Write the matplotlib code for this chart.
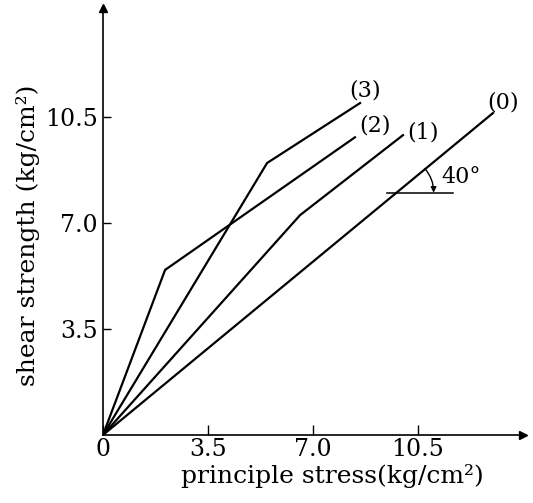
import matplotlib
matplotlib.use('Agg')
from matplotlib import pyplot as plt

# shear strength vs principle stress
x0 = [0, 13.0]
y0 = [0, 10.63]
x1 = [0, 6.57, 10.0]
y1 = [0, 7.26, 9.9]
x2 = [0, 2.07, 8.4]
y2 = [0, 5.45, 9.83]
x3 = [0, 5.47, 8.57]
y3 = [0, 8.98, 10.96]

curve_names = ['(0)', '(1)', '(2)', '(3)']
name_x = [13.33, 10.67, 9.07, 8.73]
name_y = [10.99, 10.0, 10.23, 11.39]

ticks = [3.5, 7.0, 10.5]
xtick_labels = ['3.5', '7.0', '10.5']
ytick_labels = ['3.5', '7.0', '10.5']

plt.rcParams['font.family'] = ['DejaVu Serif']

fig = plt.figure(figsize=(5.33, 5.03), dpi=100)
ax = fig.add_axes([0.1932, 0.1352, 0.788, 0.849])

for xs, ys in [(x0, y0), (x1, y1), (x2, y2), (x3, y3)]:
    ax.plot(xs, ys, c='black', lw=1.6, solid_joinstyle='miter')

for name, tx, ty in zip(curve_names, name_x, name_y):
    ax.text(tx, ty, name, fontsize=16, ha='center', va='center')

# 40 degree mark on line (0)
ax.plot([9.47, 11.67], [8.0, 8.0], c='black', lw=1.1)
ax.annotate('', xy=(9.78 + 1.24, 8.0), xytext=(9.78 + 1.24 * 0.766, 8.0 + 1.24 * 0.643),
            arrowprops=dict(arrowstyle='-|>', color='black', lw=1.0,
                            mutation_scale=8, shrinkA=0, shrinkB=0,
                            connectionstyle='arc3,rad=-0.182'))
ax.text(11.27, 8.51, '40°', fontsize=16, ha='left', va='center')

ax.set_xlim(0, 14.0)
ax.set_ylim(0, 14.1)

ax.spines['top'].set_visible(False)
ax.spines['right'].set_visible(False)
for s in ['left', 'bottom']:
    ax.spines[s].set_linewidth(1.2)

# axis arrows
ax.plot(1, 0, '>k', ms=6, transform=ax.transAxes, clip_on=False)
ax.plot(0, 1, '^k', ms=6, transform=ax.transAxes, clip_on=False)

ax.set_xticks([0] + ticks)
ax.set_xticklabels(['0'] + xtick_labels)
ax.set_yticks(ticks)
ax.set_yticklabels(ytick_labels)
ax.tick_params(axis='x', direction='in', length=7, width=1.0, pad=2, labelsize=17)
ax.tick_params(axis='y', direction='in', length=6, width=1.0, pad=4, labelsize=17)

ax.set_xlabel('principle stress(kg/cm²)', fontsize=18)
ax.xaxis.set_label_coords(0.547, -0.068)
ax.set_ylabel('shear strength (kg/cm²)', fontsize=18)
ax.yaxis.set_label_coords(-0.15, 0.467)

fig.savefig('out.png', dpi=100)
